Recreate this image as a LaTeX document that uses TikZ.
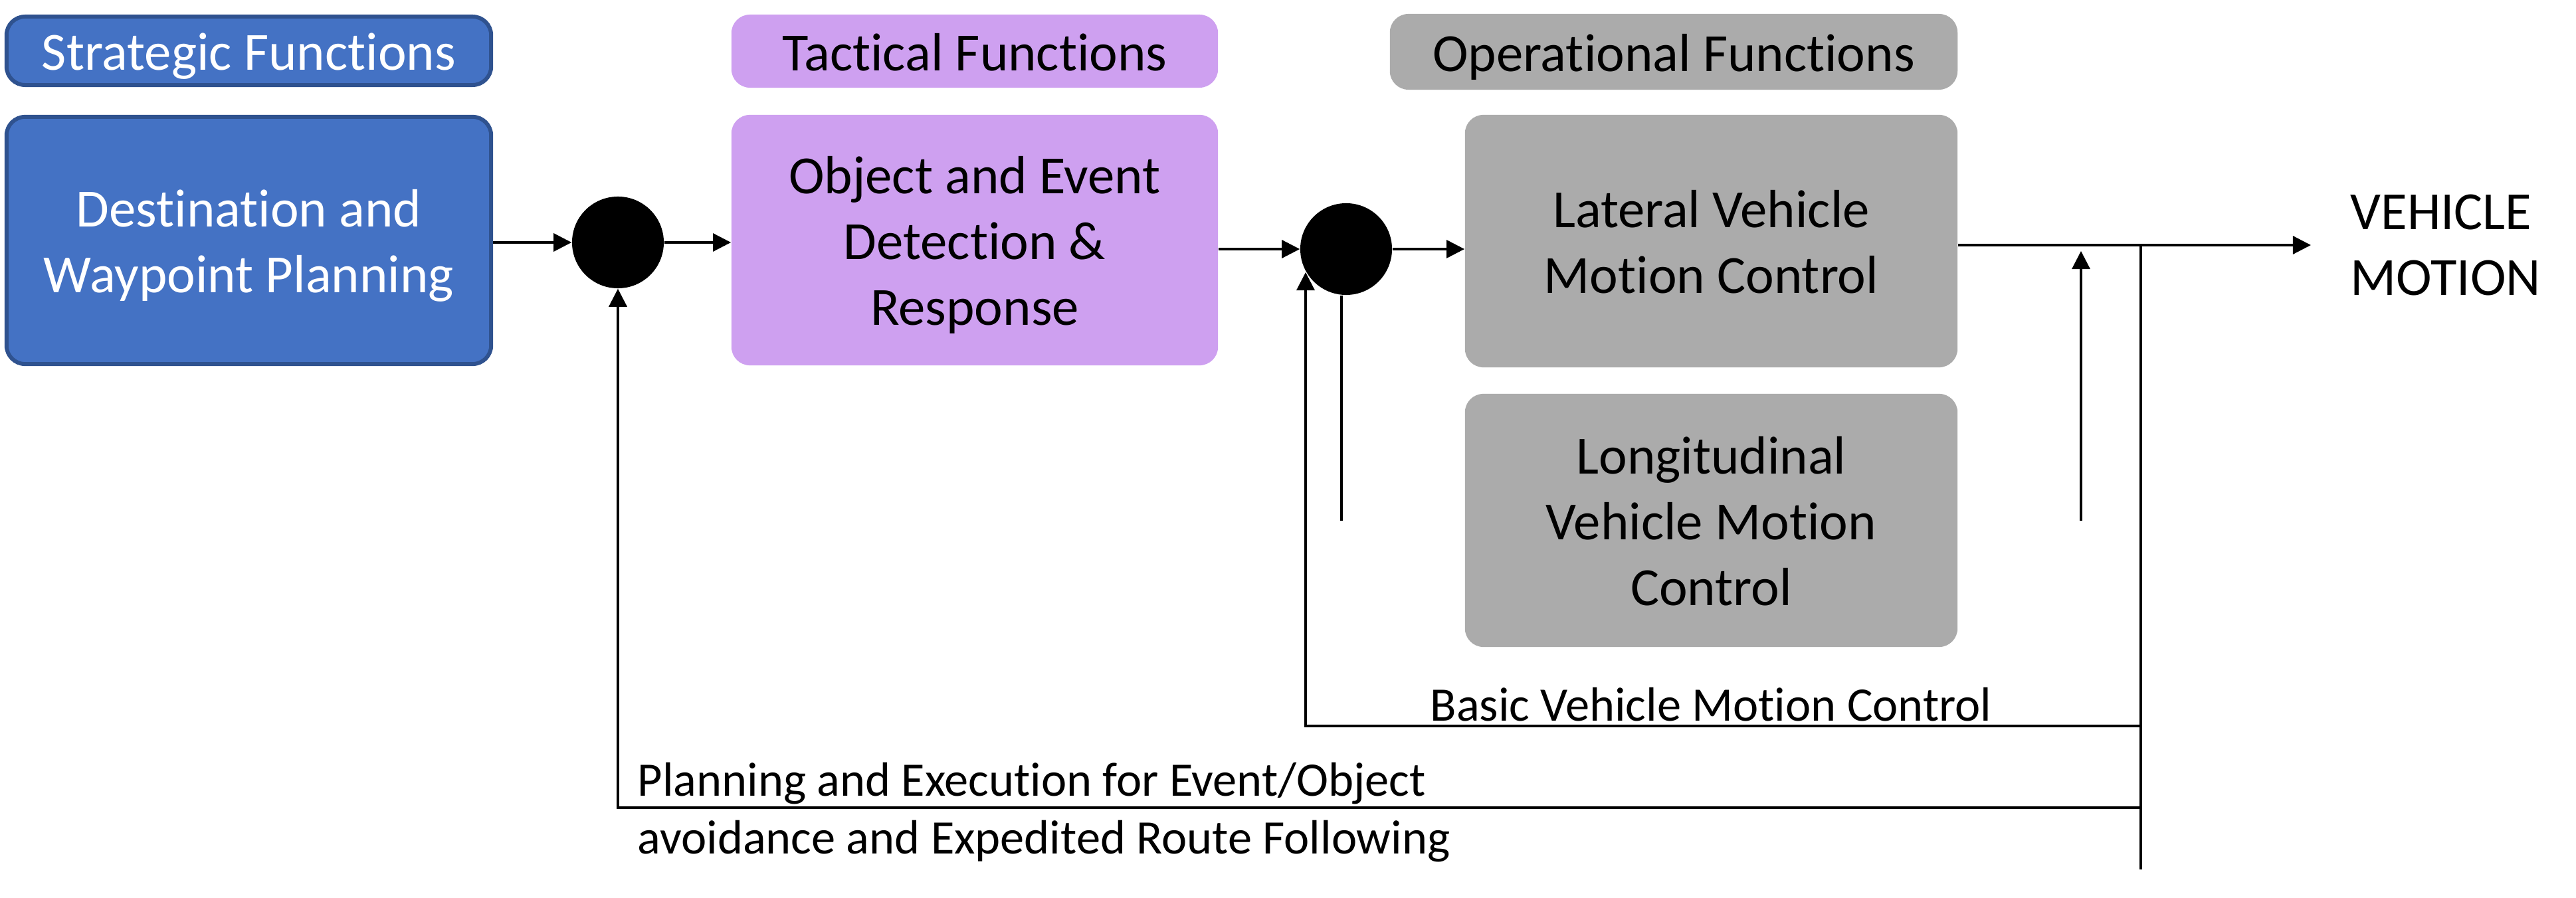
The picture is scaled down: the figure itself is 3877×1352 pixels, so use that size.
\documentclass[tikz,border=0pt]{standalone}
\usepackage{fontspec}
\setmainfont{Carlito}[Ligatures=CommonOff]
\usetikzlibrary{arrows.meta}
\definecolor{stratblue}{HTML}{4472C4}
\definecolor{stratedge}{HTML}{2F528F}
\definecolor{tactpurple}{HTML}{CEA0F0}
\definecolor{opgray}{HTML}{ABABAB}
\newcommand\lnstrut{\rule[-5.76pt]{0pt}{28.06pt}}
\begin{document}
\begin{tikzpicture}[x=0.01cm,y=-0.01cm,
  bigfont/.style={font=\fontsize{23}{28.2}\selectfont},
  smallfont/.style={font=\fontsize{20.6}{24.8}\selectfont},
  fbox/.style={rounded corners=0.28cm, inner sep=0pt, align=center, bigfont},
  stratbox/.style={fbox, fill=stratblue, draw=stratedge, line width=1.7pt, text=white, minimum width=7.29cm},
  tactbox/.style={fbox, fill=tactpurple, text=black, minimum width=7.32cm},
  opbox/.style={fbox, fill=opgray, text=black},
  sumdot/.style={circle, fill=black, minimum size=1.38cm, inner sep=0pt},
  conn/.style={line width=0.9pt, -{Triangle[length=7.7pt,width=7.7pt]}},
  plainline/.style={line width=0.9pt},
  lbl/.style={inner sep=0pt, anchor=base west}]
\useasboundingbox (0,0) rectangle (3877,1352);

% boxes
\node[stratbox, minimum height=1.03cm] (sh) at (374.5,76.5) {\lnstrut Strategic Functions};
\node[stratbox, minimum height=3.72cm] (dest) at (374.5,362) {\lnstrut Destination and\\\lnstrut Waypoint Planning};
\node[tactbox, minimum height=1.10cm] (th) at (1467,77) {\lnstrut Tactical Functions};
\node[tactbox, minimum height=3.77cm] (tact) at (1467,361.5) {\lnstrut Object and Event\\\lnstrut Detection \&\\\lnstrut Response};
\node[opbox, minimum width=8.54cm, minimum height=1.14cm] (oh) at (2519,78) {\lnstrut Operational Functions};
\node[opbox, minimum width=7.41cm, minimum height=3.80cm] (lat) at (2575.5,363) {\lnstrut Lateral Vehicle\\\lnstrut Motion Control};
\node[opbox, minimum width=7.41cm, minimum height=3.81cm] (lon) at (2575.5,783.5) {\lnstrut Longitudinal\\\lnstrut Vehicle Motion\\\lnstrut Control};

% summing points
\node[sumdot] (c1) at (930,365) {};
\node[sumdot] (c2) at (2026,375) {};

% labels
\node[lbl, bigfont] (vm1) at (3537,346) {VEHICLE};
\node[lbl, bigfont] (vm2) at (3537,445) {MOTION};
\node[lbl, smallfont] (basiclbl) at (2152,1085) {Basic Vehicle Motion Control};
\node[lbl, smallfont] (plan1) at (959,1198) {Planning and Execution for Event/Object};
\node[lbl, smallfont] (plan2) at (959,1285) {avoidance and Expedited Route Following};

% coordinates
\coordinate (out) at (3478,369);
\coordinate (tap) at (3222,369);
\coordinate (tapend) at (3222,1309);
\coordinate (basicR) at (3222,1093);
\coordinate (basicL) at (1965,1093);
\coordinate (fb2) at (1965,410);
\coordinate (planR) at (3222,1216);
\coordinate (planL) at (930,1216);
\coordinate (c2down) at (2019,784);
\coordinate (upfrom) at (3132,784);
\coordinate (uptip) at (3132,378);

% connectors
\draw[conn] (dest.east |- c1.west) -- (c1.west);
\draw[conn] (c1.east) -- (c1.east -| tact.west);
\draw[conn] (tact.east |- c2.west) -- (c2.west);
\draw[conn] (c2.east) -- (c2.east -| lat.west);
\draw[conn] (lat.east |- out) -- (out);
\draw[plainline] (tap) -- (tapend);
\draw[conn] (basicR) -- (basicL) -- (fb2);
\draw[conn] (planR) -- (planL) -- (c1.south);
\draw[plainline] (c2down |- c2.south) -- (c2down);
\draw[conn] (upfrom) -- (uptip);
\end{tikzpicture}
\end{document}
